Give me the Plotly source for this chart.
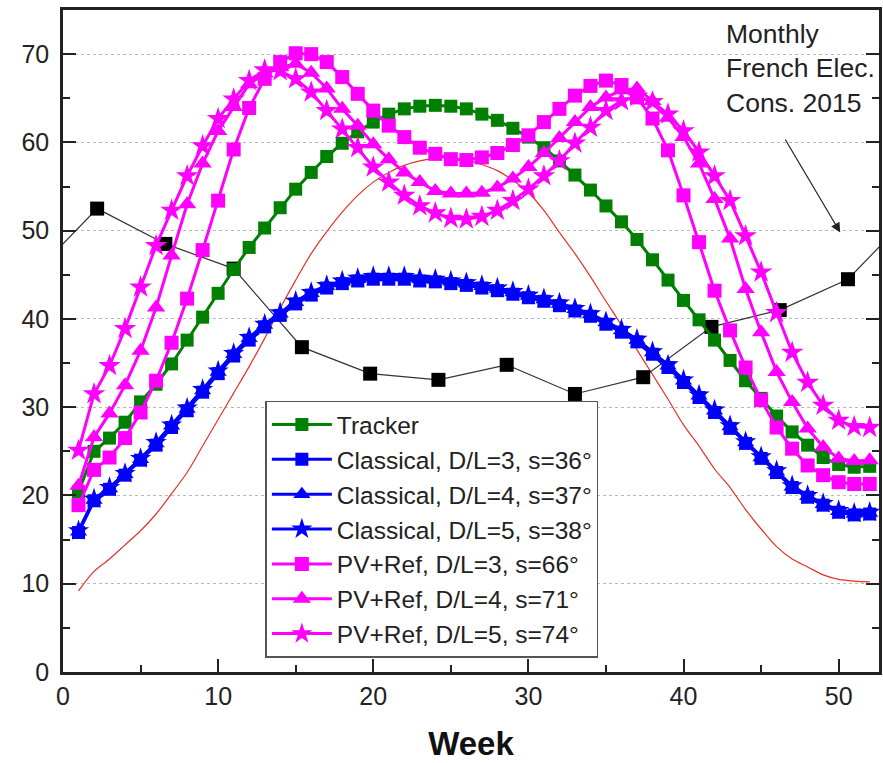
import plotly.graph_objects as go

weeks = list(range(1, 53))

tracker = [20.4, 25.0, 26.5, 28.3, 30.6, 32.6, 34.9, 37.6, 40.2, 42.9, 45.6, 48.1, 50.3,
           52.6, 54.7, 56.6, 58.4, 59.9, 61.2, 62.3, 63.2, 63.8, 64.1, 64.2, 64.1, 63.8,
           63.2, 62.5, 61.6, 60.6, 59.4, 57.9, 56.3, 54.6, 52.8, 51.0, 49.0, 46.7, 44.4,
           42.1, 39.9, 37.6, 35.3, 33.0, 31.0, 29.0, 27.2, 25.7, 24.3, 23.5, 23.2, 23.3]

classical_dl3 = [15.8, 19.4, 20.7, 22.3, 24.0, 25.7, 27.7, 29.6, 31.7, 33.8, 35.8, 37.6, 39.1,
                 40.4, 41.7, 42.7, 43.5, 44.0, 44.3, 44.5, 44.5, 44.5, 44.3, 44.2, 44.0, 43.8,
                 43.5, 43.2, 42.8, 42.4, 42.0, 41.5, 40.9, 40.3, 39.4, 38.5, 37.4, 36.0, 34.5,
                 32.8, 31.1, 29.4, 27.6, 25.9, 24.2, 22.6, 20.9, 19.8, 18.9, 18.1, 17.8, 17.9]

classical_dl4 = [15.9, 19.5, 20.8, 22.4, 24.1, 25.9, 27.9, 29.8, 31.9, 34.0, 36.0, 37.8, 39.3,
                 40.6, 41.9, 42.9, 43.7, 44.2, 44.5, 44.7, 44.7, 44.7, 44.5, 44.4, 44.2, 44.0,
                 43.7, 43.4, 43.0, 42.6, 42.2, 41.7, 41.1, 40.5, 39.6, 38.7, 37.6, 36.2, 34.7,
                 33.0, 31.3, 29.6, 27.8, 26.0, 24.3, 22.7, 21.0, 19.9, 19.0, 18.2, 17.9, 18.0]

classical_dl5 = [16.0, 19.6, 20.9, 22.5, 24.2, 26.0, 28.0, 29.9, 32.0, 34.1, 36.1, 37.9, 39.4,
                 40.7, 42.0, 43.0, 43.8, 44.3, 44.6, 44.8, 44.8, 44.8, 44.6, 44.5, 44.3, 44.1,
                 43.8, 43.5, 43.1, 42.7, 42.3, 41.8, 41.2, 40.6, 39.7, 38.8, 37.7, 36.3, 34.8,
                 33.1, 31.4, 29.7, 27.9, 26.1, 24.4, 22.8, 21.1, 20.0, 19.1, 18.3, 18.0, 18.1]

pvref_dl3 = [18.9, 22.9, 24.3, 26.5, 29.4, 33.0, 37.3, 42.3, 47.8, 53.4, 59.2, 63.9, 67.2,
             69.1, 70.1, 70.0, 69.1, 67.4, 65.5, 63.6, 61.9, 60.6, 59.4, 58.7, 58.1, 58.0,
             58.3, 58.8, 59.7, 60.8, 62.3, 63.8, 65.3, 66.4, 67.0, 66.5, 65.1, 62.7, 59.1,
             54.0, 48.7, 43.2, 38.7, 34.5, 30.8, 27.7, 25.3, 23.4, 22.3, 21.5, 21.3, 21.3]

pvref_dl4 = [21.1, 26.6, 29.3, 32.5, 36.4, 41.3, 47.2, 53.0, 57.6, 61.3, 64.0, 66.6, 67.8,
             68.5, 68.9, 67.9, 66.1, 63.8, 61.9, 59.8, 58.1, 56.6, 55.5, 54.5, 54.2, 54.2,
             54.3, 54.9, 55.9, 57.2, 58.8, 60.5, 62.3, 64.0, 65.1, 65.9, 66.1, 64.7, 62.8,
             60.6, 57.6, 53.6, 49.1, 43.4, 38.5, 34.0, 30.6, 27.6, 25.5, 24.2, 23.9, 24.0]

pvref_dl5 = [25.1, 31.5, 34.7, 38.9, 43.6, 48.3, 52.3, 56.2, 59.6, 62.7, 64.9, 67.0, 68.2,
             68.1, 67.2, 65.7, 63.6, 61.5, 59.4, 57.2, 55.5, 54.0, 52.8, 52.0, 51.4, 51.3,
             51.6, 52.3, 53.4, 54.7, 56.2, 57.9, 59.9, 61.7, 63.6, 64.7, 65.2, 64.6, 63.2,
             61.3, 58.9, 56.2, 53.4, 49.4, 45.3, 40.7, 36.2, 32.8, 30.2, 28.5, 27.8, 27.7]

red_curve = [9.2, 11.4, 12.8, 14.4, 16.0, 17.9, 20.2, 22.6, 25.6, 28.6, 31.6, 34.6, 37.8,
             41.2, 44.4, 47.4, 49.9, 52.1, 54.0, 55.5, 56.6, 57.4, 57.9, 58.2, 58.3, 58.0,
             57.5, 56.8, 55.7, 54.3, 52.3, 49.8, 47.4, 44.8, 42.0, 39.3, 36.5, 33.7, 30.9,
             28.0, 25.6, 23.0, 20.9, 18.4, 16.2, 14.2, 12.8, 11.9, 11.0, 10.5, 10.3, 10.2]

# Monthly French electricity consumption 2015 (cyclic: Dec before, Jan after)
month_weeks = [-2.2, 2.2, 6.6, 11.0, 15.4, 19.8, 24.2, 28.6, 33.0, 37.4, 41.8, 46.2, 50.6, 55.0]
month_cons = [44.5, 52.5, 48.5, 45.7, 36.8, 33.8, 33.1, 34.8, 31.5, 33.4, 39.1, 41.0, 44.5, 52.5]

GREEN = "#008000"
BLUE = "#0000FF"
MAG = "#FF00FF"
FONT = "Liberation Sans, Arial, Helvetica, sans-serif"

fig = go.Figure()

fig.add_trace(go.Scatter(x=weeks, y=red_curve, mode="lines", showlegend=False,
                         line=dict(color="#E8302A", width=1.2, shape="spline", smoothing=0.8)))
fig.add_trace(go.Scatter(x=month_weeks, y=month_cons, mode="lines+markers", showlegend=False,
                         line=dict(color="#333333", width=1.2),
                         marker=dict(symbol="square", size=14, color="#000000")))

series = [
    ("Tracker", tracker, GREEN, "square", 13),
    ("Classical, D/L=3, s=36°", classical_dl3, BLUE, "square", 13),
    ("Classical, D/L=4, s=37°", classical_dl4, BLUE, "triangle-up", 15),
    ("Classical, D/L=5, s=38°", classical_dl5, BLUE, "star", 16),
    ("PV+Ref, D/L=3, s=66°", pvref_dl3, MAG, "square", 14),
    ("PV+Ref, D/L=4, s=71°", pvref_dl4, MAG, "triangle-up", 16),
    ("PV+Ref, D/L=5, s=74°", pvref_dl5, MAG, "star", 17),
]
for name, vals, col, sym, sz in series:
    fig.add_trace(go.Scatter(x=weeks, y=vals, mode="lines+markers", name=name,
                             line=dict(color=col, width=3),
                             marker=dict(symbol=sym, size=sz, color=col, line=dict(width=0))))

fig.add_annotation(x=50.1, y=49.8, ax=46.5, ay=60.5, xref="x", yref="y", axref="x", ayref="y",
                   text="", showarrow=True, arrowhead=2, arrowsize=1.6, arrowwidth=1.2,
                   arrowcolor="#222222")
fig.add_annotation(x=42.6, y=74.2, xref="x", yref="y", xanchor="left", yanchor="top",
                   align="left", showarrow=False,
                   text="Monthly<br>French Elec.<br>Cons. 2015",
                   font=dict(family=FONT, size=26.5, color="#222222"))

fig.update_layout(
    width=883, height=763,
    margin=dict(l=63, r=4, t=10, b=91, autoexpand=False),
    paper_bgcolor="white", plot_bgcolor="white",
    font=dict(family=FONT, size=24, color="#222222"),
    legend=dict(x=0.248, y=0.41, xanchor="left", yanchor="top",
                bgcolor="white", bordercolor="#555555", borderwidth=1.5,
                font=dict(family=FONT, size=24.5, color="#222222"),
                itemwidth=60, tracegroupgap=0),
)
fig.update_xaxes(range=[0, 52.6], tickmode="array", tickvals=[0, 10, 20, 30, 40, 50],
                 automargin=False,
                 ticks="inside", ticklen=13, tickwidth=2, tickcolor="#222222",
                 minor=dict(tickvals=[5, 15, 25, 35, 45], ticks="inside", ticklen=7,
                            tickwidth=2, tickcolor="#222222"),
                 showline=True, linewidth=2.5, linecolor="#222222", mirror=True,
                 showgrid=False, zeroline=False,
                 tickfont=dict(size=25),
                 title=dict(text="<b>Week</b>", font=dict(size=33, color="#111111"), standoff=24))
fig.update_yaxes(range=[0, 75], tickmode="array", tickvals=[0, 10, 20, 30, 40, 50, 60, 70],
                 automargin=False,
                 ticks="inside", ticklen=13, tickwidth=2, tickcolor="#222222",
                 minor=dict(tickvals=[5, 15, 25, 35, 45, 55, 65], ticks="inside", ticklen=7,
                            tickwidth=2, tickcolor="#222222", showgrid=False),
                 showline=True, linewidth=2.5, linecolor="#222222", mirror="ticks",
                 showgrid=True, gridcolor="#BBBBBB", gridwidth=1, griddash="dot",
                 zeroline=False, tickfont=dict(size=25), ticklabelstandoff=6)

fig.write_html("out.html", config={"displayModeBar": False},
               post_script="document.body.style.margin='0';document.body.style.padding='0';")
